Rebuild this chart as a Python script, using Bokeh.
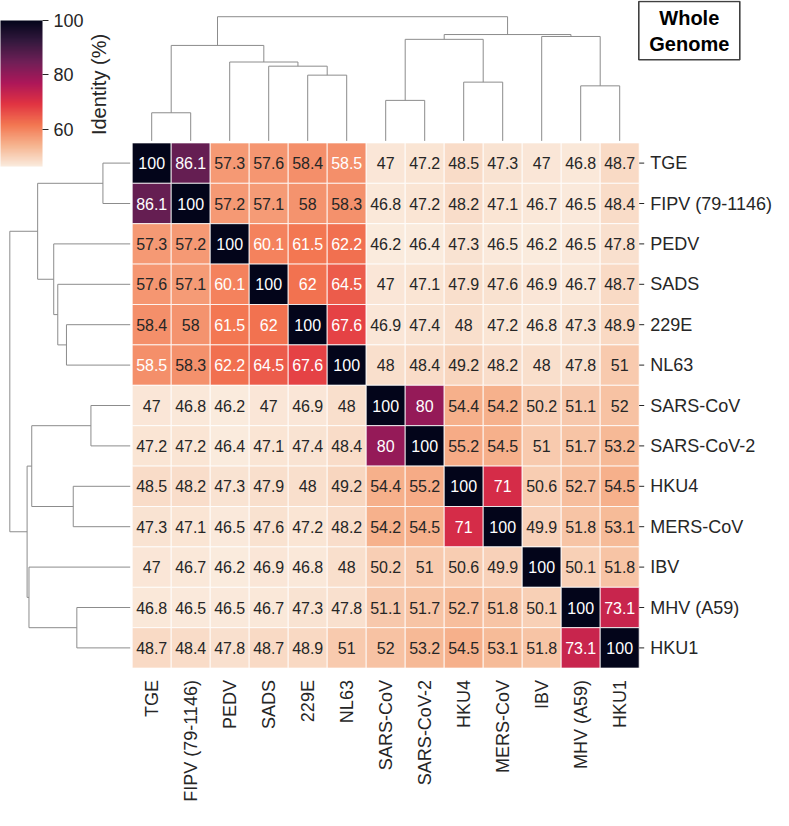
import numpy as np
from bokeh.plotting import figure
from bokeh.models import Range1d, LinearColorMapper, ColorBar, FixedTicker, ColumnDataSource
from bokeh.transform import transform
from bokeh.core.properties import value
from bokeh.embed import file_html
from bokeh.resources import INLINE

# ---------------- data ----------------
names = ["TGE", "FIPV (79-1146)", "PEDV", "SADS", "229E", "NL63", "SARS-CoV",
         "SARS-CoV-2", "HKU4", "MERS-CoV", "IBV", "MHV (A59)", "HKU1"]
tge      = [100, 86.1, 57.3, 57.6, 58.4, 58.5, 47, 47.2, 48.5, 47.3, 47, 46.8, 48.7]
fipv     = [86.1, 100, 57.2, 57.1, 58, 58.3, 46.8, 47.2, 48.2, 47.1, 46.7, 46.5, 48.4]
pedv     = [57.3, 57.2, 100, 60.1, 61.5, 62.2, 46.2, 46.4, 47.3, 46.5, 46.2, 46.5, 47.8]
sads     = [57.6, 57.1, 60.1, 100, 62, 64.5, 47, 47.1, 47.9, 47.6, 46.9, 46.7, 48.7]
e229     = [58.4, 58, 61.5, 62, 100, 67.6, 46.9, 47.4, 48, 47.2, 46.8, 47.3, 48.9]
nl63     = [58.5, 58.3, 62.2, 64.5, 67.6, 100, 48, 48.4, 49.2, 48.2, 48, 47.8, 51]
sars     = [47, 46.8, 46.2, 47, 46.9, 48, 100, 80, 54.4, 54.2, 50.2, 51.1, 52]
sars2    = [47.2, 47.2, 46.4, 47.1, 47.4, 48.4, 80, 100, 55.2, 54.5, 51, 51.7, 53.2]
hku4     = [48.5, 48.2, 47.3, 47.9, 48, 49.2, 54.4, 55.2, 100, 71, 50.6, 52.7, 54.5]
mers     = [47.3, 47.1, 46.5, 47.6, 47.2, 48.2, 54.2, 54.5, 71, 100, 49.9, 51.8, 53.1]
ibv      = [47, 46.7, 46.2, 46.9, 46.8, 48, 50.2, 51, 50.6, 49.9, 100, 50.1, 51.8]
mhv      = [46.8, 46.5, 46.5, 46.7, 47.3, 47.8, 51.1, 51.7, 52.7, 51.8, 50.1, 100, 73.1]
hku1     = [48.7, 48.4, 47.8, 48.7, 48.9, 51, 52, 53.2, 54.5, 53.1, 51.8, 73.1, 100]
cbar_ticks = [60, 80, 100]
cbar_title = "Identity (%)"
title_lines = ["Whole", "Genome"]

M = np.array([tge, fipv, pedv, sads, e229, nl63, sars, sars2, hku4, mers, ibv, mhv, hku1], dtype=float)
n = len(names)

# ---------------- colours (rocket, reversed) ----------------
anchor_pos = [0, 1/7, 2/7, 3/7, 4/7, 5/7, 6/7, 1]
anchor_rgb = [(3, 5, 26), (0x35, 0x19, 0x3e), (0x70, 0x1f, 0x57), (0xad, 0x17, 0x59),
              (0xe1, 0x33, 0x42), (0xf3, 0x76, 0x51), (0xf6, 0xb4, 0x8f), (0xfa, 0xeb, 0xdd)]

def rocket_r(t):
    pos = 1 - t
    return [float(np.interp(pos, anchor_pos, [c[k] for c in anchor_rgb])) for k in range(3)]

def to_hex(rgb):
    return "#%02x%02x%02x" % tuple(int(round(v)) for v in rgb)

def luminance(rgb):
    out = []
    for v in rgb:
        v = v / 255
        out.append(v / 12.92 if v <= 0.03928 else ((v + 0.055) / 1.055) ** 2.4)
    return 0.2126 * out[0] + 0.7152 * out[1] + 0.0722 * out[2]

palette = [to_hex(rocket_r(i / 255)) for i in range(256)]
low, high = M.min(), M.max()
mapper = LinearColorMapper(palette=palette, low=low, high=high)

# ---------------- layout constants (pixels) ----------------
W, H = 773, 810
HX0, CW = 131.7, 39.0       # heatmap left, cell width
HY0, CH = 142.4, 40.4       # heatmap top, cell height
CB, CT = 140.4, 10.0        # column dendrogram baseline / axis top
RB, RL = 129.7, 3.3         # row dendrogram baseline / axis left
CBAR_TOP, CBAR_H, CBAR_OVER = 11, 146, 9
FONT = value("Liberation Sans")
DARK = "#262626"

# ---------------- average linkage (UPGMA, euclidean) ----------------
def upgma(data):
    m = len(data)
    D = np.sqrt(((data[:, None, :] - data[None, :, :]) ** 2).sum(-1))
    members = {i: [i] for i in range(m)}
    pos = {i: i + 0.5 for i in range(m)}
    hgt = {i: 0.0 for i in range(m)}
    active = list(range(m))
    links = []
    nid = m
    while len(active) > 1:
        best = None
        for ai in range(len(active)):
            for bi in range(ai + 1, len(active)):
                a, b = active[ai], active[bi]
                d = D[np.ix_(members[a], members[b])].mean()
                if best is None or d < best[0]:
                    best = (d, a, b)
        d, a, b = best
        links.append((pos[a], hgt[a], pos[b], hgt[b], d))
        members[nid] = members[a] + members[b]
        pos[nid] = (pos[a] + pos[b]) / 2
        hgt[nid] = d
        active = [c for c in active if c not in (a, b)] + [nid]
        nid += 1
    return links

row_links = upgma(M)
col_links = upgma(M.T)
hmax_r = max(l[4] for l in row_links)
hmax_c = max(l[4] for l in col_links)

# ---------------- figure ----------------
p = figure(width=W, height=H, min_border=0, toolbar_location=None, output_backend="svg",
           x_range=Range1d(-HX0 / CW, (W - HX0) / CW),
           y_range=Range1d((H - HY0) / CH, -HY0 / CH),
           x_axis_type=None, y_axis_type=None, outline_line_color=None)
p.grid.visible = False
p.background_fill_color = "white"

kc = 1.05 * hmax_c / (CB - CT)
p.extra_y_ranges["col_h"] = Range1d(-(H - CB) * kc, CB * kc)
kr = 1.05 * hmax_r / (RB - RL)
p.extra_x_ranges["row_h"] = Range1d(RB * kr, -(W - RB) * kr)
p.extra_x_ranges["px"] = Range1d(0, W)
p.extra_y_ranges["py"] = Range1d(H, 0)

# heatmap
xs, ys, vals, labs, tcs = [], [], [], [], []
for i in range(n):
    for j in range(n):
        v = M[i, j]
        xs.append(j + 0.5)
        ys.append(i + 0.5)
        vals.append(v)
        labs.append(format(v, ".3g"))
        lum = luminance(rocket_r((v - low) / (high - low)))
        tcs.append(DARK if lum > 0.40 else "white")
src = ColumnDataSource(dict(x=xs, y=ys, v=vals, lab=labs, tc=tcs))
p.rect(x="x", y="y", width=1, height=1, source=src, fill_color=transform("v", mapper),
       line_color="white", line_width=0.8)
p.text(x="x", y="y", text="lab", source=src, text_color="tc", text_align="center",
       text_baseline="middle", text_font=FONT, text_font_size="16px")

# row labels + ticks (right)
centers = [i + 0.5 for i in range(n)]
p.ray(x=[n] * n, y=centers, length=5, length_units="screen", angle=0,
      line_color=DARK, line_width=1)
p.text(x=[n] * n, y=centers, text=names, x_offset=11, text_align="left",
       text_baseline="middle", text_font=FONT, text_font_size="18px", text_color=DARK)

# column labels (bottom, rotated)
p.text(x=centers, y=[n] * n, text=names, y_offset=12, angle=np.pi / 2,
       text_align="right", text_baseline="middle", text_font=FONT,
       text_font_size="18px", text_color=DARK)

# dendrograms
DCOL = "#8c8c8c"
p.multi_line(xs=[[a, a, b, b] for a, ha, b, hb, h in col_links],
             ys=[[ha, h, h, hb] for a, ha, b, hb, h in col_links],
             y_range_name="col_h", line_color=DCOL, line_width=1)
p.multi_line(xs=[[ha, h, h, hb] for a, ha, b, hb, h in row_links],
             ys=[[a, a, b, b] for a, ha, b, hb, h in row_links],
             x_range_name="row_h", line_color=DCOL, line_width=1)

# colour bar
cb = ColorBar(color_mapper=mapper, location=(0, H - (CBAR_TOP + CBAR_H) - CBAR_OVER),
              orientation="vertical",
              width=42, height=CBAR_H, padding=0, ticker=FixedTicker(ticks=cbar_ticks),
              major_tick_out=6, major_tick_in=0, major_tick_line_color=DARK,
              label_standoff=5, major_label_text_font_size="18px",
              major_label_text_font="Liberation Sans", major_label_text_color=DARK,
              bar_line_color=None, border_line_color=None, background_fill_alpha=0)
p.add_layout(cb)
p.text(x=[98], y=[CBAR_TOP + CBAR_H / 2], text=[cbar_title], angle=np.pi / 2,
       text_align="center", text_baseline="middle", text_font=FONT,
       text_font_size="20px", text_color=DARK, x_range_name="px", y_range_name="py")

# title box
p.quad(left=[638.3], right=[739.3], top=[1], bottom=[59.3], fill_color="white",
       line_color="#404040", line_width=1.6, x_range_name="px", y_range_name="py")
p.text(x=[688.8, 688.8], y=[17.5, 43.2], text=title_lines, text_align="center",
       text_baseline="middle", text_font=FONT, text_font_size="20px",
       text_font_style="bold", text_color="black", x_range_name="px", y_range_name="py")

open("out.html", "w").write(file_html(p, INLINE))
